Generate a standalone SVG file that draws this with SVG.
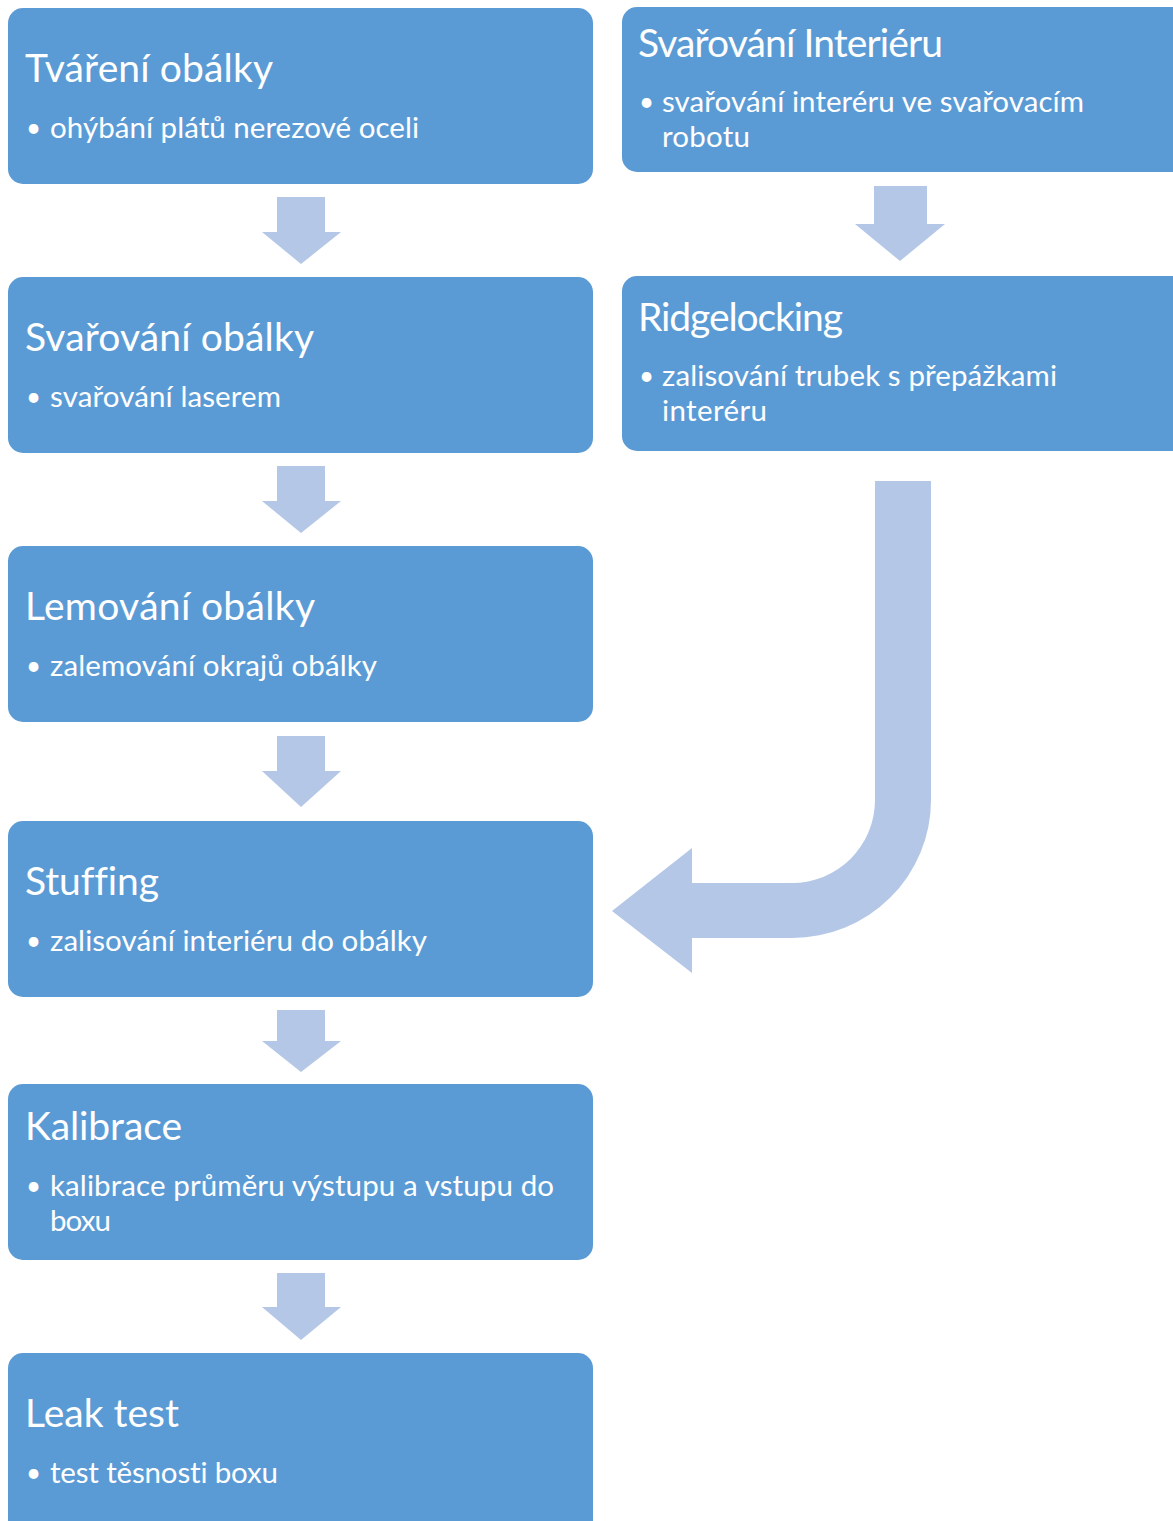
<svg xmlns="http://www.w3.org/2000/svg" width="1173" height="1521" viewBox="0 0 1173 1521">
<style>
.box{fill:#5B9BD5}
.arr{fill:#B4C7E7}
.t{font-family:Lato,"Open Sans","Liberation Sans",sans-serif;fill:#FFFFFF;font-size:39px;font-variant-ligatures:none}
.b{font-family:Lato,"Open Sans","Liberation Sans",sans-serif;fill:#FFFFFF;font-size:29.5px;font-variant-ligatures:none}
.d{font-family:Lato,"Open Sans","Liberation Sans",sans-serif;fill:#FFFFFF;font-size:26px}
</style>
<rect width="1173" height="1521" fill="#FFFFFF"/>
<g id="connectors">
<polygon class="arr" points="277,197 325,197 325,232 341,232 301,264 262,232 277,232"/>
<polygon class="arr" points="277,466 325,466 325,501 341,501 301,533 262,501 277,501"/>
<polygon class="arr" points="277,736 325,736 325,771 341,771 301,807 262,771 277,771"/>
<polygon class="arr" points="277,1010 325,1010 325,1041 341,1041 301,1072 262,1041 277,1041"/>
<polygon class="arr" points="277,1273 325,1273 325,1307 341,1307 301,1340 262,1307 277,1307"/>
<polygon class="arr" points="874,186 927,186 927,224 945,224 900,261 855,224 874,224"/>
<path class="arr" d="M875,481 L931,481 L931,800 A139,138 0 0 1 792,938 L692,938 L692,973 L612,911 L692,848 L692,883 L792,883 A83,83 0 0 0 875,800 Z"/>
</g>
<g id="n1"><rect class="box" x="8" y="8" width="585" height="176" rx="15"/>
<text class="t" x="25" y="82" textLength="248">Tváření obálky</text>
<text class="d" x="26" y="137">•</text><text class="b" x="50" y="138" textLength="369">ohýbání plátů nerezové oceli</text></g>
<g id="n2"><rect class="box" x="8" y="277" width="585" height="176" rx="15"/>
<text class="t" x="25" y="351" textLength="289">Svařování obálky</text>
<text class="d" x="26" y="406">•</text><text class="b" x="50" y="407" textLength="231">svařování laserem</text></g>
<g id="n3"><rect class="box" x="8" y="546" width="585" height="176" rx="15"/>
<text class="t" x="25" y="620" textLength="290">Lemování obálky</text>
<text class="d" x="26" y="675">•</text><text class="b" x="50" y="676" textLength="327">zalemování okrajů obálky</text></g>
<g id="n4"><rect class="box" x="8" y="821" width="585" height="176" rx="15"/>
<text class="t" x="25" y="895" textLength="134">Stuffing</text>
<text class="d" x="26" y="950">•</text><text class="b" x="50" y="951" textLength="377">zalisování interiéru do obálky</text></g>
<g id="n5"><rect class="box" x="8" y="1084" width="585" height="176" rx="15"/>
<text class="t" x="25" y="1140" textLength="157">Kalibrace</text>
<text class="d" x="26" y="1195">•</text><text class="b" x="50" y="1196" textLength="504">kalibrace průměru výstupu a vstupu do</text>
<text class="b" x="50" y="1231" textLength="61">boxu</text></g>
<g id="n6"><rect class="box" x="8" y="1353" width="585" height="190" rx="15"/>
<text class="t" x="25" y="1427" textLength="154">Leak test</text>
<text class="d" x="26" y="1482">•</text><text class="b" x="50" y="1483" textLength="228">test těsnosti boxu</text></g>
<g id="r1"><rect class="box" x="622" y="7" width="580" height="165" rx="15"/>
<text class="t" x="638" y="57" textLength="305">Svařování Interiéru</text>
<text class="d" x="639" y="111">•</text><text class="b" x="662" y="112" textLength="422">svařování interéru ve svařovacím</text>
<text class="b" x="662" y="147" textLength="88">robotu</text></g>
<g id="r2"><rect class="box" x="622" y="276" width="580" height="175" rx="15"/>
<text class="t" x="638" y="331" textLength="205">Ridgelocking</text>
<text class="d" x="639" y="385">•</text><text class="b" x="662" y="386" textLength="395">zalisování trubek s přepážkami</text>
<text class="b" x="662" y="421" textLength="105">interéru</text></g>
</svg>
